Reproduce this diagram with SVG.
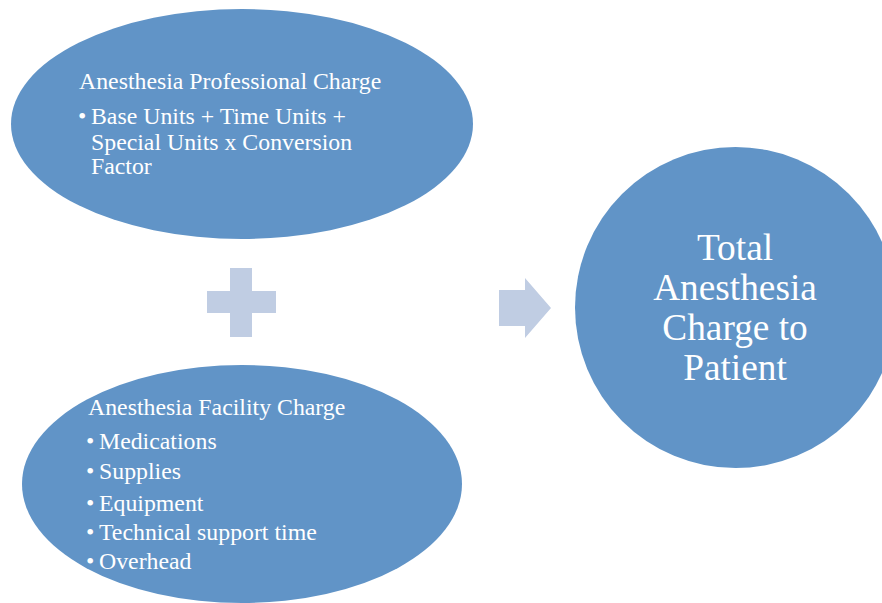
<svg xmlns="http://www.w3.org/2000/svg" width="882" height="603" viewBox="0 0 882 603">
<style>
.node{fill:#6194C7;}
.sym{fill:#C0CDE3;}
text{font-family:"Liberation Serif","Times New Roman",serif;fill:#ffffff;}
.t{font-size:23.8px;}
.b{font-size:23.8px;}
.c{font-size:37.3px;text-anchor:middle;}
</style>
<rect width="882" height="603" fill="#ffffff"/>
<g id="professional">
<ellipse class="node" cx="242" cy="124" rx="231" ry="115"/>
<text class="t" x="79" y="89">Anesthesia Professional Charge</text>
<text class="b" x="78" y="123.5">•</text>
<text class="b" x="91" y="123.5">Base Units + Time Units +</text>
<text class="b" x="91" y="150">Special Units x Conversion</text>
<text class="b" x="91" y="173.5">Factor</text>
</g>
<g id="facility">
<ellipse class="node" cx="242" cy="484" rx="220" ry="119"/>
<text class="t" x="88" y="415">Anesthesia Facility Charge</text>
<text class="b" x="86" y="449">•</text><text class="b" x="99" y="449">Medications</text>
<text class="b" x="86" y="479">•</text><text class="b" x="99" y="479">Supplies</text>
<text class="b" x="86" y="511">•</text><text class="b" x="99" y="511">Equipment</text>
<text class="b" x="86" y="540">•</text><text class="b" x="99" y="540">Technical support time</text>
<text class="b" x="86" y="569">•</text><text class="b" x="99" y="569">Overhead</text>
</g>
<g id="total">
<circle class="node" cx="735.5" cy="307.5" r="160.5"/>
<text class="c" x="735" y="260">Total</text>
<text class="c" x="735" y="300">Anesthesia</text>
<text class="c" x="735" y="340">Charge to</text>
<text class="c" x="735" y="380">Patient</text>
</g>
<g id="connectors">
<path id="plus" class="sym" d="M230,268 H252 V291 H276 V313 H252 V337 H230 V313 H207 V291 H230 Z"/>
<path id="arrow" class="sym" d="M499,290 H525 V278 L551,308 L525,338 V326 H499 Z"/>
</g>
</svg>
